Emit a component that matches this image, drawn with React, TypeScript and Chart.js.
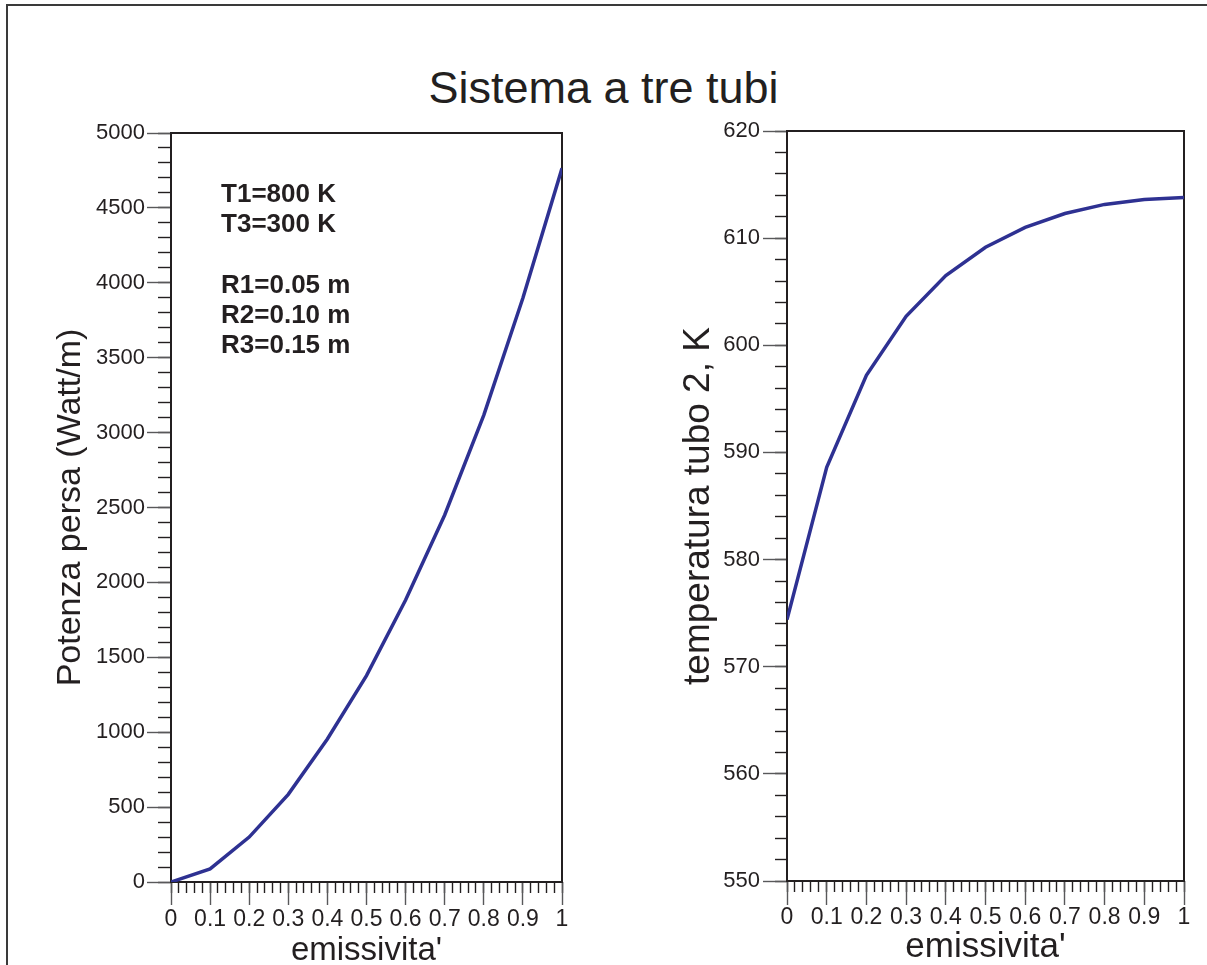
import React, { useEffect, useRef } from "react";
import { Chart, registerables } from "chart.js";

Chart.register(...registerables);

// ---- data ----
const emissivity = [0, 0.1, 0.2, 0.3, 0.4, 0.5, 0.6, 0.7, 0.8, 0.9, 1.0];
const powerLost = [0, 87, 300, 585, 955, 1378, 1882, 2450, 3117, 3898, 4764];
const tempTube2 = [574.4, 588.6, 597.2, 602.7, 606.5, 609.15, 611.0, 612.3, 613.15, 613.6, 613.8];

const chartTitle = "Sistema a tre tubi";
const xTitle = "emissivita'";
const leftYTitle = "Potenza persa (Watt/m)";
const rightYTitle = "temperatura tubo 2, K";

const noteLines = ["T1=800 K", "T3=300 K", "R1=0.05 m", "R2=0.10 m", "R3=0.15 m"];
const noteX = 0.128;
const noteY = [4540, 4340, 3930, 3730, 3530];

const FONT = "'Liberation Sans', Arial, Helvetica, sans-serif";
const INK = "#231f20";
const LINE = "#2e3192";

type Cfg = {
  data: number[];
  yMin: number;
  yMax: number;
  yStep: number;
  yMinor: number;
  yTitle: string;
  yTitleSize: number;
  yTitlePad: number;
  yAxisWidth: number;
  yMajorLen: number;
  yMinorLen: number;
  yLabelPad: number;
  xAxisHeight: number;
  xTitleSize: number;
  xTitleLH: number;
  xLabelPad: number;
  xMajorLen: number;
  xMinorLen: number;
  padTop: number;
  padRight: number;
  notes: boolean;
};

function frameAndNotes(notes: boolean) {
  return {
    id: "frameNotes" + (notes ? "1" : "0"),
    beforeDatasetsDraw(chart: any) {
      const { ctx, chartArea } = chart;
      ctx.save();
      ctx.strokeStyle = INK;
      ctx.lineWidth = 2;
      ctx.strokeRect(chartArea.left, chartArea.top, chartArea.right - chartArea.left, chartArea.bottom - chartArea.top);
      ctx.restore();
    },
    afterDraw(chart: any) {
      if (!notes) return;
      const { ctx } = chart;
      const xs = chart.scales.x;
      const ys = chart.scales.y;
      ctx.save();
      ctx.font = `bold 26px ${FONT}`;
      ctx.fillStyle = INK;
      ctx.textAlign = "left";
      ctx.textBaseline = "alphabetic";
      noteLines.forEach((t, i) => {
        ctx.fillText(t, xs.getPixelForValue(noteX), ys.getPixelForValue(noteY[i]));
      });
      ctx.restore();
    },
  };
}

function makeConfig(c: Cfg): any {
  const fmtX = (v: any) => String(Number(Number(v).toFixed(2)));
  return {
    type: "line",
    data: {
      datasets: [
        {
          data: emissivity.map((x, i) => ({ x, y: c.data[i] })),
          borderColor: LINE,
          borderWidth: 3.5,
          pointRadius: 0,
          tension: 0,
          fill: false,
        },
      ],
    },
    options: {
      responsive: false,
      animation: false,
      events: [],
      layout: { padding: { top: c.padTop, right: c.padRight, left: 0, bottom: 0 } },
      plugins: { legend: { display: false }, tooltip: { enabled: false }, title: { display: false } },
      scales: {
        xMinor: {
          type: "linear",
          position: "bottom",
          weight: 0,
          min: 0,
          max: 1,
          ticks: { display: false, stepSize: 0.02, autoSkip: false },
          grid: { drawOnChartArea: false, drawTicks: true, tickLength: c.xMinorLen, tickColor: INK, tickWidth: 1.4 },
          border: { display: false },
          afterFit: (s: any) => { s.height = 0; },
        },
        x: {
          type: "linear",
          position: "bottom",
          weight: 1,
          min: 0,
          max: 1,
          ticks: {
            stepSize: 0.1,
            autoSkip: false,
            maxRotation: 0,
            padding: c.xLabelPad,
            color: INK,
            font: { family: FONT, size: 23 },
            callback: fmtX,
          },
          grid: { drawOnChartArea: false, drawTicks: true, tickLength: c.xMajorLen, tickColor: "#58585a", tickWidth: 1.4 },
          border: { display: false },
          title: {
            display: true,
            text: xTitle,
            color: INK,
            font: { family: FONT, size: c.xTitleSize, lineHeight: c.xTitleLH },
            padding: 0,
          },
          afterFit: (s: any) => { s.height = c.xAxisHeight; },
        },
        yMinor: {
          type: "linear",
          position: "left",
          weight: 0,
          min: c.yMin,
          max: c.yMax,
          ticks: { display: false, stepSize: c.yMinor, autoSkip: false },
          grid: { drawOnChartArea: false, drawTicks: true, tickLength: c.yMinorLen, tickColor: INK, tickWidth: 1.4 },
          border: { display: false },
          afterFit: (s: any) => { s.width = 0; },
        },
        y: {
          type: "linear",
          position: "left",
          weight: 1,
          min: c.yMin,
          max: c.yMax,
          ticks: {
            stepSize: c.yStep,
            autoSkip: false,
            padding: c.yLabelPad,
            color: INK,
            font: { family: FONT, size: 22 },
            callback: (v: any) => String(v),
          },
          grid: { drawOnChartArea: false, drawTicks: true, tickLength: c.yMajorLen, tickColor: "#58585a", tickWidth: 1.4 },
          border: { display: false },
          title: {
            display: true,
            text: c.yTitle,
            color: INK,
            font: { family: FONT, size: c.yTitleSize, lineHeight: 1.2 },
            padding: { top: c.yTitlePad, bottom: 0 },
          },
          afterFit: (s: any) => { s.width = c.yAxisWidth; },
        },
      },
    },
    plugins: [frameAndNotes(c.notes)],
  };
}

const leftCfg: Cfg = {
  data: powerLost,
  yMin: 0,
  yMax: 5000,
  yStep: 500,
  yMinor: 100,
  yTitle: leftYTitle,
  yTitleSize: 34,
  yTitlePad: 50,
  yAxisWidth: 171,
  yMajorLen: 24,
  yMinorLen: 13,
  yLabelPad: 2,
  xAxisHeight: 83,
  xTitleSize: 33,
  xTitleLH: 0.88,
  xLabelPad: 1,
  xMajorLen: 23,
  xMinorLen: 11,
  padTop: 133,
  padRight: 38,
  notes: true,
};

const rightCfg: Cfg = {
  data: tempTube2,
  yMin: 550,
  yMax: 620,
  yStep: 10,
  yMinor: 2,
  yTitle: rightYTitle,
  yTitleSize: 37,
  yTitlePad: 77,
  yAxisWidth: 187,
  yMajorLen: 24,
  yMinorLen: 12,
  yLabelPad: 3,
  xAxisHeight: 84,
  xTitleSize: 35,
  xTitleLH: 1.03,
  xLabelPad: -1,
  xMajorLen: 24,
  xMinorLen: 11,
  padTop: 131,
  padRight: 23,
  notes: false,
};

function Panel({ cfg, left, width }: { cfg: Cfg; left: number; width: number }) {
  const ref = useRef<HTMLCanvasElement | null>(null);
  useEffect(() => {
    if (!ref.current) return;
    const chart = new Chart(ref.current, makeConfig(cfg));
    return () => chart.destroy();
  }, [cfg]);
  return (
    <canvas
      ref={ref}
      width={width}
      height={965}
      style={{ position: "absolute", left, top: 0, width, height: 965, display: "block" }}
    />
  );
}

export default function App() {
  return (
    <div
      style={{
        position: "fixed",
        left: 0,
        top: 0,
        width: 1207,
        height: 965,
        overflow: "hidden",
        background: "#ffffff",
      }}
    >
      <div
        style={{
          position: "absolute",
          left: 6,
          top: 4,
          width: 1300,
          height: 1100,
          borderLeft: "2px solid #3a3a3a",
          borderTop: "2px solid #3a3a3a",
        }}
      />
      <div
        style={{
          position: "absolute",
          left: 0,
          top: 65,
          width: 1207,
          textAlign: "center",
          fontFamily: FONT,
          fontSize: 45,
          lineHeight: "45px",
          color: INK,
          whiteSpace: "nowrap",
        }}
      >
        {chartTitle}
      </div>
      <Panel cfg={leftCfg} left={0} width={600} />
      <Panel cfg={rightCfg} left={600} width={607} />
    </div>
  );
}
